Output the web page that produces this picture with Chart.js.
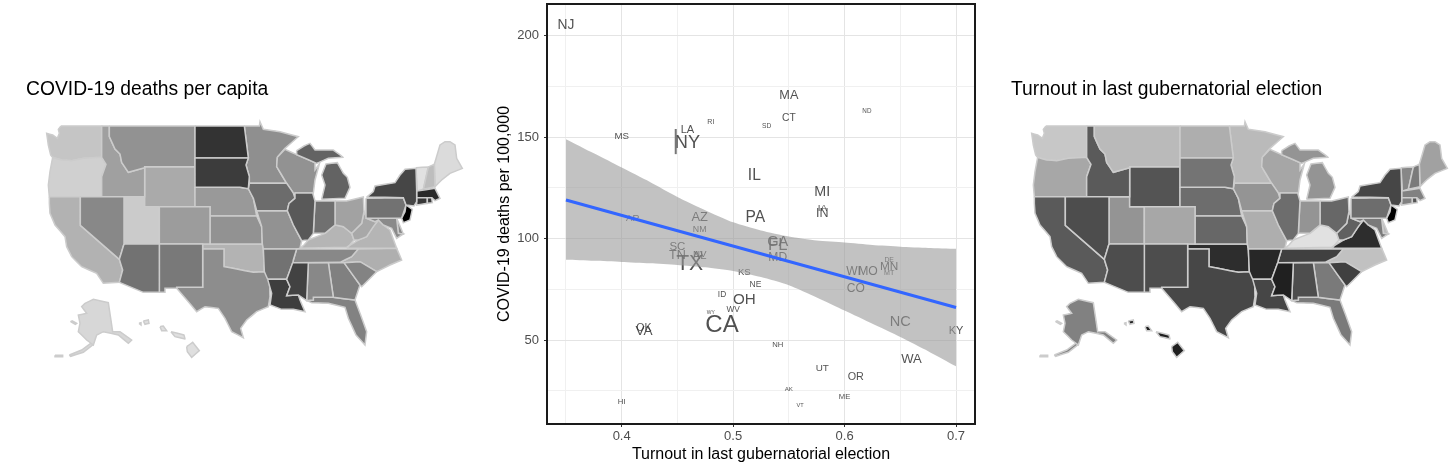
<!DOCTYPE html>
<html>
<head>
<meta charset="utf-8">
<script src="https://cdn.jsdelivr.net/npm/chart.js@4"></script>
<style>
body { margin: 0; background: #fff; }
canvas { position: absolute; }
</style>
</head>
<body>
<canvas id="Deaths_Map" width="445" height="313" style="left:26px;top:78px"></canvas>
<canvas id="Scatter_Chart" width="494" height="463" style="left:496px;top:0"></canvas>
<canvas id="Turnout_Map" width="445" height="313" style="left:1011px;top:78px"></canvas>
<script>
// values
const states     = ["NJ","MS","NY","LA","RI","SD","CT","MA","ND","IL","MI","IA","IN","PA","AR","AZ","NM","SC","TN","TX","NV","AL","GA","FL","MD","WI","MO","MN","DE","MT","CO","KS","NE","OH","ID","WY","WV","CA","OK","VA","HI","NH","AK","VT","ME","UT","OR","WA","NC","KY"];
const turnout    = [.35,.40,.459,.459,.48,.53,.55,.55,.62,.519,.58,.58,.58,.52,.41,.47,.47,.45,.45,.461,.47,.47,.54,.54,.54,.608,.621,.64,.64,.64,.61,.51,.52,.51,.49,.48,.50,.49,.42,.42,.40,.54,.55,.56,.60,.58,.61,.66,.65,.70];
const deaths     = [205.8,151,147.6,154,158,156,160,170.8,163,131.4,123.5,115.6,112.6,110.7,110.7,111,104.8,96.4,92,88,92.5,92,98.6,97,91,84,84,86.6,90,83.6,75.7,84,78,70.5,72.6,64,65.3,57.5,56.5,55,20,48,26.4,18,22.6,36.5,32,41,59.5,54.7];
const population = [8.9,3,19.5,4.6,1.06,.88,3.6,6.9,.76,12.7,10,3.2,6.7,12.8,3,7.3,2.1,5.1,6.8,29,3.1,4.9,10.6,15,6,5.8,6.1,5.6,.97,1.07,5.8,2.9,1.9,11.7,1.8,.58,1.8,39.5,4,8.5,1.4,1.36,.73,.62,1.34,3.2,4.2,7.6,10.5,4.5];

// linear fit and its confidence band
const fitX     = [.35,.70];
const fitY     = [119,66];
const bandX    = [.35,.375,.40,.425,.45,.475,.50,.525,.55,.575,.60,.625,.65,.675,.70];
const bandHigh = [149,142,135,128,120.5,114,108,104,101,99,98,96.8,96,95.4,95];
const bandLow  = [89.5,89,88.5,87.8,87,85.8,84,81,77,71,64.5,58,51.5,44.5,37];
const strayX   = [.4485,.4485];
const strayY   = [141.6,154];

const xTicks = [.35,.40,.45,.50,.55,.60,.65,.70];
const yTicks = [25,50,75,100,125,150,175,200];
const xLabeled = [.40,.50,.60,.70];
const yLabeled = [50,100,150,200];

// state outlines in map units, x east, y south
const stateShapes = {
  WA: [[[183,168],[305,168],[305,262],[250,265],[215,272],[185,270],[158,262],[152,255],[145,225],[140,190],[158,195],[172,205],[178,190],[175,178]]],
  OR: [[[158,262],[185,270],[215,272],[250,265],[305,262],[318,283],[305,320],[305,380],[148,380],[145,345],[150,305]]],
  ID: [[[305,168],[328,168],[328,200],[345,237],[360,252],[365,277],[385,307],[434,293],[434,380],[305,380],[305,320],[318,283],[305,262]]],
  MT: [[[328,168],[585,168],[585,290],[434,290],[434,293],[385,307],[365,277],[360,252],[345,237],[328,200]]],
  WY: [[[434,290],[585,290],[585,410],[434,410]]],
  ND: [[[585,168],[733,168],[745,264],[585,264]]],
  SD: [[[585,264],[745,264],[738,285],[748,320],[745,356],[720,352],[585,352]]],
  MN: [[[733,168],[778,168],[780,155],[790,178],[840,185],[895,200],[855,235],[832,262],[830,290],[860,340],[748,340],[748,320],[738,285],[745,264]]],
  WI: [[[832,262],[855,238],[890,254],[945,278],[945,300],[958,282],[945,330],[940,369],[880,369],[860,340],[830,290]]],
  MI: [[[890,242],[912,228],[930,220],[945,240],[1000,240],[1030,262],[985,265],[950,280],[890,254]],
       [[965,388],[975,345],[965,315],[978,282],[1012,278],[1030,310],[1042,322],[1050,352],[1035,385]]],
  IA: [[[748,340],[860,340],[880,369],[885,385],[867,400],[862,422],[770,422],[760,385],[745,356]]],
  NE: [[[585,352],[720,352],[745,356],[760,385],[770,438],[630,438],[630,410],[585,410]]],
  CO: [[[478,410],[630,410],[630,522],[478,522]]],
  UT: [[[372,380],[434,380],[434,410],[478,410],[478,522],[372,522]]],
  NV: [[[241,380],[372,380],[372,522],[358,568],[241,466]]],
  CA: [[[148,380],[241,380],[241,466],[358,568],[368,600],[358,637],[310,640],[290,610],[245,590],[215,560],[200,530],[195,500],[165,465],[150,430],[148,400]]],
  AZ: [[[372,522],[478,522],[478,667],[430,667],[358,637],[368,600],[358,568]]],
  NM: [[[478,522],[608,522],[608,652],[530,652],[530,655],[495,655],[495,667],[478,667]]],
  KS: [[[630,438],[770,438],[785,470],[787,522],[630,522]]],
  OK: [[[608,522],[787,522],[790,537],[793,605],[760,607],[710,597],[672,590],[672,537],[608,537]]],
  TX: [[[608,537],[672,537],[672,590],[710,597],[760,607],[793,605],[808,615],[810,680],[805,710],[770,725],[740,750],[722,775],[730,803],[695,785],[675,745],[655,715],[615,710],[590,725],[565,695],[530,655],[530,652],[608,652]]],
  MO: [[[770,422],[862,422],[880,465],[905,512],[900,535],[890,537],[790,537],[787,522],[785,470]]],
  AR: [[[790,537],[890,537],[880,570],[878,580],[860,628],[803,628],[793,605]]],
  LA: [[[803,628],[860,628],[870,650],[860,677],[895,675],[900,690],[915,725],[880,718],[845,718],[810,705],[815,670]]],
  MS: [[[878,578],[925,578],[920,692],[895,675],[860,677],[870,650],[860,628]]],
  AL: [[[925,578],[985,578],[1000,682],[940,682],[940,690],[920,692]]],
  GA: [[[985,578],[1032,578],[1080,645],[1065,690],[1000,682]]],
  FL: [[[920,692],[940,690],[940,682],[1000,682],[1065,690],[1082,735],[1100,785],[1095,825],[1068,795],[1045,745],[1035,712],[985,700],[935,698]]],
  SC: [[[1032,578],[1080,575],[1130,605],[1085,650],[1080,645]]],
  NC: [[[1020,577],[1055,560],[1075,537],[1190,535],[1205,570],[1170,585],[1130,605],[1080,575],[1032,578]]],
  TN: [[[890,537],[1075,537],[1055,560],[1020,577],[878,578]]],
  KY: [[[900,535],[912,525],[925,510],[975,490],[1005,465],[1030,470],[1055,490],[1062,510],[1048,527],[1040,532]]],
  VA: [[[1040,535],[1048,527],[1075,510],[1100,500],[1120,470],[1135,450],[1150,465],[1170,480],[1190,535]]],
  WV: [[[1055,490],[1085,460],[1092,425],[1100,445],[1125,455],[1135,450],[1120,470],[1100,500],[1075,510],[1062,510]]],
  OH: [[[1005,393],[1040,393],[1090,381],[1092,425],[1085,460],[1055,490],[1030,470],[1005,465]]],
  IN: [[[945,393],[1005,393],[1005,465],[975,490],[940,490]]],
  IL: [[[885,369],[938,369],[945,393],[940,490],[925,510],[905,512],[880,465],[862,422],[867,400],[885,385]]],
  PA: [[[1098,385],[1210,383],[1218,405],[1215,415],[1205,445],[1098,445]]],
  MD: [[[1100,445],[1190,445],[1195,490],[1210,492],[1190,505],[1175,475],[1150,465],[1135,450],[1125,455]]],
  DE: [[[1190,445],[1205,480],[1210,492],[1195,490]]],
  NY: [[[1100,381],[1120,365],[1125,348],[1185,338],[1200,315],[1215,298],[1248,295],[1250,362],[1250,395],[1242,408],[1218,405],[1210,383]]],
  NJ: [[[1218,405],[1237,418],[1230,450],[1210,458],[1205,445],[1215,425]]],
  VT: [[[1248,293],[1285,291],[1270,358],[1252,363]]],
  NH: [[[1285,291],[1303,283],[1305,350],[1270,358]]],
  ME: [[[1303,283],[1320,225],[1335,215],[1350,215],[1365,225],[1370,265],[1387,295],[1350,310],[1325,330],[1305,350]]],
  MA: [[[1250,363],[1305,355],[1320,385],[1305,392],[1295,383],[1250,383]]],
  CT: [[[1250,383],[1282,383],[1282,400],[1250,405]]],
  RI: [[[1282,383],[1295,383],[1297,398],[1282,400]]],
  AK: [[[255,700],[280,688],[325,698],[338,785],[360,785],[395,810],[385,820],[355,795],[310,785],[290,795],[280,825],[260,810],[235,785],[240,760],[235,735],[260,730],[245,710]],
       [[208,855],[245,840],[275,818],[278,825],[250,847],[212,859]],
       [[165,856],[188,856],[188,860],[165,860]],
       [[215,752],[230,760],[226,763],[213,755]]],
  HI: [[[560,830],[578,817],[598,842],[575,862],[562,845]],
       [[513,785],[552,795],[555,807],[525,800]],
       [[480,770],[490,768],[500,782],[485,782]],
       [[430,753],[445,750],[447,760],[435,763]],
       [[417,760],[423,758],[423,765]]]
};

// population sets the label size, as ggplot's area scale does
function labelSize(pop) {
    return 5 + 19 * Math.sqrt((pop - 0.58) / 38.92);
}
function gray(level) {
    let g = Math.round(Math.max(0, Math.min(225, level)));
    return 'rgb(' + g + ',' + g + ',' + g + ')';
}
function deathsFill(v) { return gray(225 * (1 - (v - 18) / 187.8)); }
function turnoutFill(v) { return gray(225 * (v - 0.35) / 0.35); }

function mapChart(id, title, fillFor) {
    let datasets = [];
    states.forEach(function (st, i) {
        stateShapes[st].forEach(function (ring) {
            let pts = ring.concat([ring[0]]).map(function (p) { return { x: p[0], y: p[1] }; });
            datasets.push({
                data: pts,
                showLine: true,
                fill: 'shape',
                tension: 0.0001, // a straight line gets the fast path, which bends the vertical edges
                backgroundColor: fillFor(i),
                borderColor: '#cccccc',
                borderWidth: 1.5,
                pointRadius: 0,
                clip: false
            });
        });
    });
    return new Chart(document.getElementById(id), {
        type: 'scatter',
        data: { datasets: datasets },
        options: {
            responsive: false,
            animation: false,
            layout: { padding: 0 },
            plugins: {
                legend: { display: false },
                tooltip: { enabled: false },
                title: {
                    display: true,
                    text: title,
                    align: 'start',
                    color: '#000',
                    font: { family: 'Liberation Sans', size: 19.3, weight: 'normal', lineHeight: 1 },
                    padding: { top: 1.7, bottom: 0 }
                }
            },
            scales: {
                x: { display: false, min: 78, max: 1413 },
                y: { display: false, min: 87, max: 963, reverse: true }
            }
        }
    });
}

mapChart('Deaths_Map', 'COVID-19 deaths per capita', function (i) { return deathsFill(deaths[i]); });
mapChart('Turnout_Map', 'Turnout in last gubernatorial election', function (i) { return turnoutFill(turnout[i]); });

// state codes go under the band, frame on top of everything
const stateLabels = {
    id: 'stateLabels',
    beforeDatasetsDraw(chart) {
        let ctx = chart.ctx;
        let meta = chart.getDatasetMeta(4);
        ctx.save();
        ctx.textAlign = 'center';
        ctx.textBaseline = 'middle';
        ctx.fillStyle = 'rgba(51,51,51,0.85)';
        meta.data.forEach(function (pt, i) {
            ctx.font = labelSize(population[i]).toFixed(1) + 'px "Liberation Sans"';
            ctx.fillText(states[i], pt.x, pt.y + 1);
        });
        ctx.restore();
    }
};
const panelFrame = {
    id: 'panelFrame',
    afterDraw(chart) {
        let a = chart.chartArea;
        let ctx = chart.ctx;
        ctx.save();
        ctx.strokeStyle = '#1a1a1a';
        ctx.lineWidth = 2;
        ctx.strokeRect(a.left, a.top, a.right - a.left, a.bottom - a.top);
        ctx.restore();
    }
};

function isOn(list, v) {
    return list.some(function (t) { return Math.abs(t - v) < 1e-6; });
}
function axisGrid(labeled) {
    return {
        color: function (c) { return c.tick && isOn(labeled, c.tick.value) ? '#e4e4e4' : '#f0f0f0'; },
        lineWidth: 1,
        tickLength: 3,
        tickColor: function (c) { return c.tick && isOn(labeled, c.tick.value) ? '#333' : 'rgba(0,0,0,0)'; }
    };
}

// Chart.js paints the last dataset first, so the fit comes first here
new Chart(document.getElementById('Scatter_Chart'), {
    type: 'scatter',
    data: {
        datasets: [{
            data: fitX.map(function (x, i) { return { x: x, y: fitY[i] }; }),
            showLine: true,
            borderColor: '#3366FF',
            borderWidth: 3,
            pointRadius: 0
        }, {
            data: bandX.map(function (x, i) { return { x: x, y: bandHigh[i] }; }),
            showLine: true,
            fill: '+1',
            tension: 0.2,
            backgroundColor: 'rgba(153,153,153,0.6)',
            borderWidth: 0,
            pointRadius: 0
        }, {
            data: bandX.map(function (x, i) { return { x: x, y: bandLow[i] }; }),
            showLine: true,
            tension: 0.2,
            borderWidth: 0,
            pointRadius: 0
        }, {
            data: strayX.map(function (x, i) { return { x: x, y: strayY[i] }; }),
            showLine: true,
            borderColor: '#777',
            borderWidth: 2,
            pointRadius: 0
        }, {
            data: states.map(function (s, i) { return { x: turnout[i], y: deaths[i] }; }),
            pointRadius: 0
        }]
    },
    options: {
        responsive: false,
        animation: false,
        layout: { padding: { top: 4, right: 15 } },
        plugins: { legend: { display: false }, tooltip: { enabled: false } },
        scales: {
            x: {
                min: 0.333,
                max: 0.717,
                afterBuildTicks(s) { s.ticks = xTicks.map(function (v) { return { value: v }; }); },
                afterFit(s) { s.height = 39; s.paddingLeft = 0; s.paddingRight = 0; },
                grid: axisGrid(xLabeled),
                border: { display: false },
                ticks: {
                    autoSkip: false,
                    maxRotation: 0,
                    padding: 2,
                    color: '#4d4d4d',
                    font: { family: 'Liberation Sans', size: 13 },
                    callback(v) { return isOn(xLabeled, v) ? v.toFixed(1) : ''; }
                },
                title: {
                    display: true,
                    text: 'Turnout in last gubernatorial election',
                    color: '#000',
                    padding: 0,
                    font: { family: 'Liberation Sans', size: 16, lineHeight: 1.1 }
                }
            },
            y: {
                min: 8.6,
                max: 215.6,
                afterBuildTicks(s) { s.ticks = yTicks.map(function (v) { return { value: v }; }); },
                afterFit(s) { s.width = 51; s.paddingTop = 0; s.paddingBottom = 0; },
                grid: axisGrid(yLabeled),
                border: { display: false },
                ticks: {
                    autoSkip: false,
                    padding: 5,
                    color: '#4d4d4d',
                    font: { family: 'Liberation Sans', size: 13 },
                    callback(v) { return isOn(yLabeled, v) ? String(v) : ''; }
                },
                title: {
                    display: true,
                    text: 'COVID-19 deaths per 100,000',
                    color: '#000',
                    padding: 0,
                    font: { family: 'Liberation Sans', size: 16, lineHeight: 1.1 }
                }
            }
        }
    },
    plugins: [stateLabels, panelFrame]
});
</script>
</body>
</html>
